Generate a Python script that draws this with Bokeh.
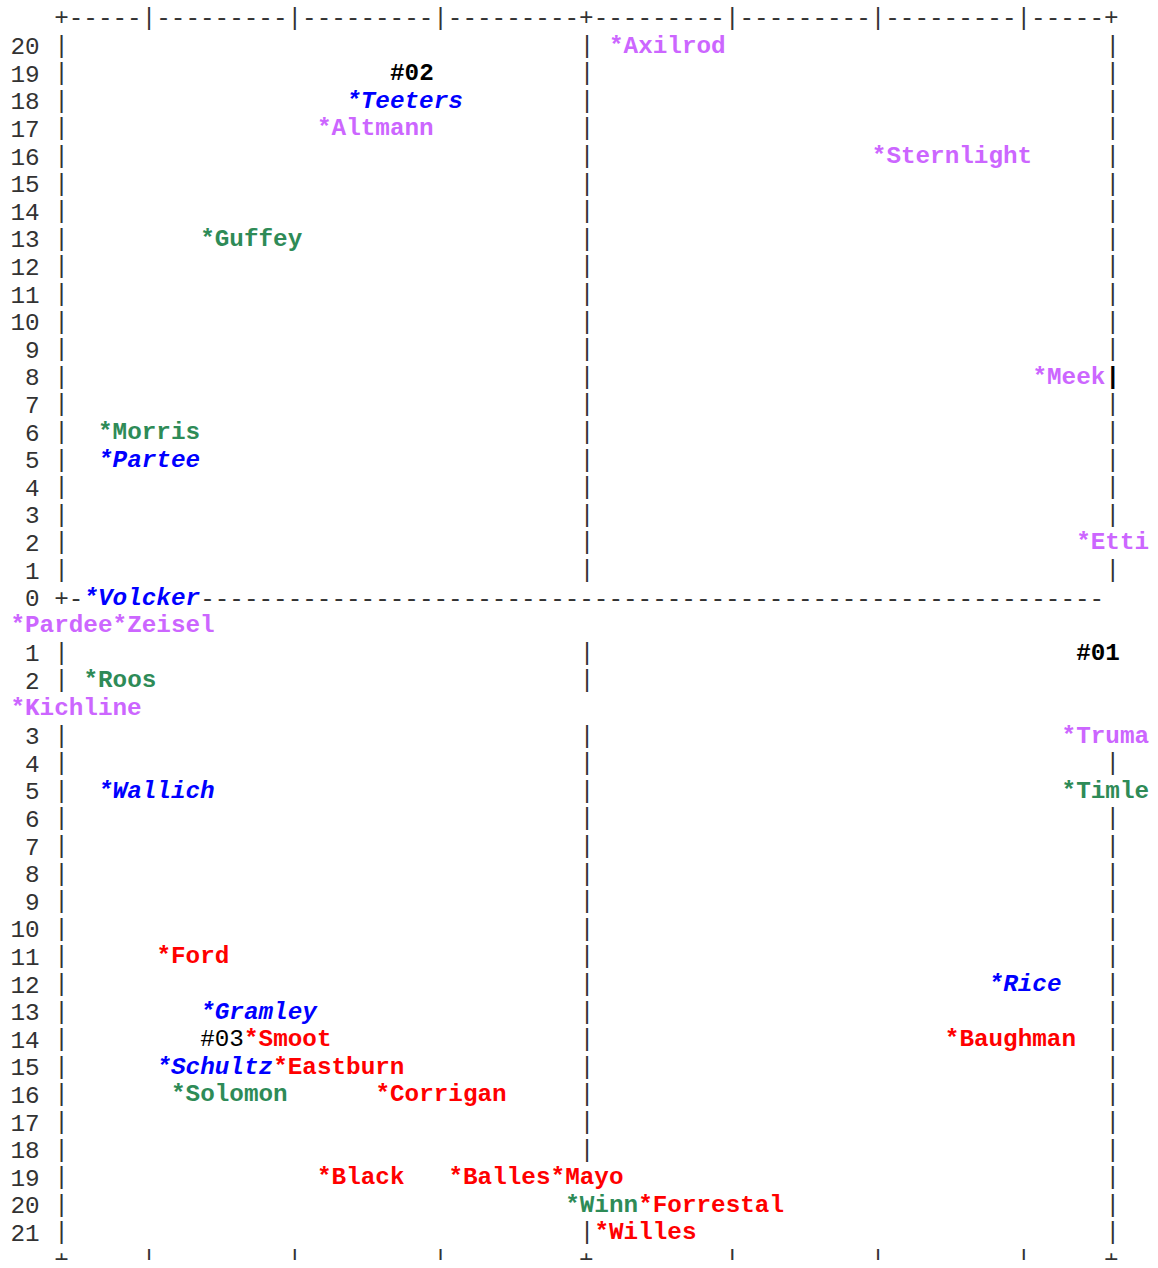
from bokeh.plotting import figure
from bokeh.models import Range1d, ColumnDataSource
from bokeh.core.properties import value
from bokeh.embed import file_html
from bokeh.resources import INLINE

# ---------------- data ----------------
# label text, column of first character, text line (row of the character grid), group
names = ["#02", "*Teeters", "*Altmann", "*Guffey", "*Morris", "*Partee",
         "*Axilrod", "*Sternlight", "*Meek", "*Ettin",
         "*Volcker", "*Pardee", "*Zeisel", "#01", "*Roos", "*Kichline", "*Truman",
         "*Wallich", "*Timlen", "*Ford", "*Rice", "*Gramley", "#03", "*Smoot",
         "*Baughman", "*Schultz", "*Eastburn", "*Solomon", "*Corrigan",
         "*Black", "*Balles", "*Mayo", "*Winn", "*Forrestal", "*Willes"]
cols = [26, 23, 21, 13, 6, 6,
        41, 59, 70, 73,
        5, 0, 7, 73, 5, 0, 72,
        6, 72, 10, 67, 13, 13, 16,
        64, 10, 18, 11, 25,
        21, 30, 37, 38, 43, 40]
lines = [2, 3, 4, 8, 15, 16,
         1, 5, 13, 19,
         21, 22, 22, 23, 24, 25, 26,
         28, 28, 34, 35, 36, 37, 37,
         37, 38, 38, 39, 39,
         42, 42, 42, 43, 43, 44]
groups = ["mark", "gov", "staff", "pres", "pres", "gov",
          "staff", "staff", "staff", "staff",
          "gov", "staff", "staff", "mark", "pres", "staff", "staff",
          "gov", "pres", "red", "gov", "gov", "mark3", "red",
          "red", "gov", "red", "pres", "red",
          "red", "red", "red", "pres", "red", "red"]

# axis tick labels
upper_ticks = [str(v) for v in range(20, -1, -1)]      # 20 ... 0
upper_tick_lines = list(range(1, 22))
lower_ticks = [str(v) for v in range(1, 22)]           # 1 ... 21
lower_tick_lines = [23, 24] + list(range(26, 45))
top_tick_cols = [9, 19, 29, 49, 59, 69]
center_col = 39
left_col, right_col = 3, 75

# ---------------- styles ----------------
CW = 14.6      # px per character column
LH = 27.6      # px per text line
FS = "24.3px"
FONT = "Courier, 'Courier New', 'Liberation Mono', monospace"
W, H = 1150, 1260
styles = {
    "staff": ("#cc66ff", "bold"),
    "gov": ("#0000ff", "bold italic"),
    "pres": ("#2e8b57", "bold"),
    "red": ("#ff0000", "bold"),
    "mark": ("#000000", "bold"),
    "mark3": ("#000000", "normal"),
}
FRAME_COLOR = "#333333"

# ---------------- build ASCII frame grid ----------------
grid = {}
def put(line, col, ch):
    grid[(line, col)] = ch

for ln in (0, 45):
    put(ln, left_col, "+")
    for c in range(left_col + 1, right_col):
        put(ln, c, "-")
    for c in top_tick_cols:
        put(ln, c, "|")
    put(ln, center_col, "+")
    put(ln, right_col, "+")

for t, ln in zip(upper_ticks, upper_tick_lines):
    for k, ch in enumerate(t):
        put(ln, 2 - len(t) + k, ch)
    if t == "0":
        put(ln, left_col, "+")
        for c in range(left_col + 1, right_col):
            put(ln, c, "-")
    else:
        put(ln, left_col, "|")
        put(ln, center_col, "|")
        put(ln, right_col, "|")

for t, ln in zip(lower_ticks, lower_tick_lines):
    for k, ch in enumerate(t):
        put(ln, 2 - len(t) + k, ch)
    put(ln, left_col, "|")
    put(ln, center_col, "|")
    if t != "2":
        put(ln, right_col, "|")

# labels overwrite frame cells
for n, c, ln in zip(names, cols, lines):
    for k in range(len(n)):
        grid.pop((ln, c + k), None)

# bold cursor-like bar next to Meek
bold_bar = [(13, right_col)]
for key in bold_bar:
    grid.pop(key, None)

# group frame characters into runs
runs_x, runs_y, runs_t = [], [], []
for ln in range(46):
    cs = sorted(c for (l, c) in grid if l == ln)
    run_start, run_txt, prev = None, "", None
    for c in cs:
        if prev is not None and c == prev + 1:
            run_txt += grid[(ln, c)]
        else:
            if run_txt:
                runs_x.append(run_start); runs_y.append(ln); runs_t.append(run_txt)
            run_start, run_txt = c, grid[(ln, c)]
        prev = c
    if run_txt:
        runs_x.append(run_start); runs_y.append(ln); runs_t.append(run_txt)

# ---------------- figure ----------------
x0 = -9.9 / CW
y0 = -18.0 / LH
p = figure(width=W, height=H, output_backend="svg", toolbar_location=None,
           x_axis_location=None, y_axis_location=None, min_border=0,
           x_range=Range1d(x0, x0 + W / CW),
           y_range=Range1d(y0 + H / LH, y0))
p.grid.visible = False
p.outline_line_color = None
p.background_fill_color = "white"
p.border_fill_color = "white"

common = dict(text_font=value(FONT), text_font_size=FS,
              text_align="left", text_baseline="middle")

p.text(x="x", y="y", text="t",
       source=ColumnDataSource(dict(x=runs_x, y=runs_y, t=runs_t)),
       text_color=FRAME_COLOR, text_font_style="normal", **common)

p.text(x=[c for (l, c) in bold_bar], y=[l for (l, c) in bold_bar], text=["|"],
       text_color="#000000", text_font_style="bold", **common)

for g, (color, style) in styles.items():
    idx = [i for i, gg in enumerate(groups) if gg == g]
    src = ColumnDataSource(dict(x=[cols[i] for i in idx],
                                y=[lines[i] for i in idx],
                                t=[names[i] for i in idx]))
    p.text(x="x", y="y", text="t", source=src, text_color=color,
           text_font_style=style, **common)

open("out.html", "w").write(file_html(p, INLINE))
